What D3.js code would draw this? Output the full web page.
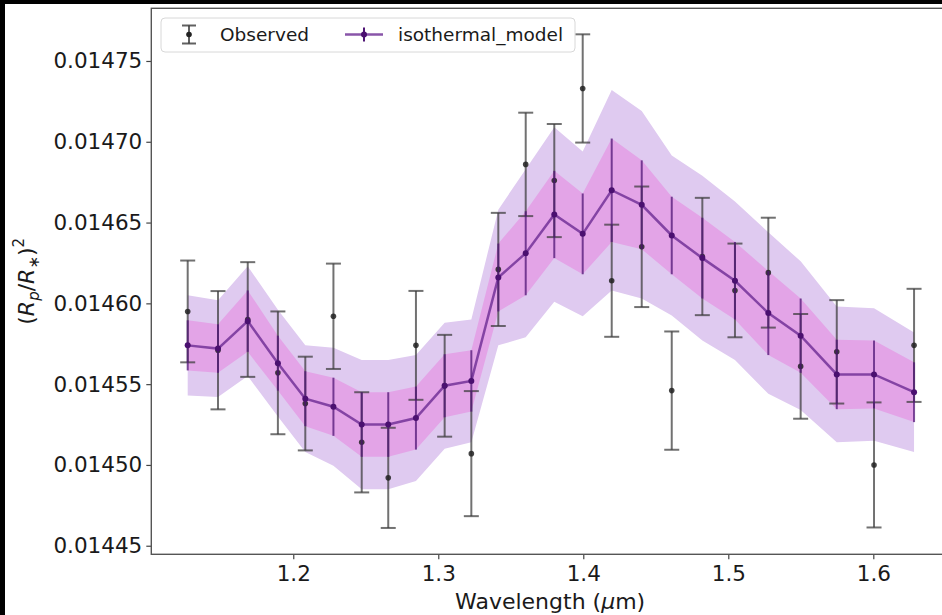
<!DOCTYPE html>
<html>
<head>
<meta charset="utf-8">
<script src="https://cdn.jsdelivr.net/npm/d3@7"></script>
<style>
  body { margin: 0; background: #fff; }
  svg { display: block; }
  text { font-family: "DejaVu Sans", sans-serif; fill: #1a1a1a; }
</style>
</head>
<body>
<script>
// spectrum bins (micron)
const wavelength = [1.1272, 1.1481, 1.1686, 1.1894, 1.2083, 1.2277, 1.2472, 1.2655, 1.2846, 1.3044,
  1.3228, 1.3414, 1.3603, 1.3800, 1.3996, 1.4196, 1.4403, 1.4610, 1.4821, 1.5046,
  1.5276, 1.5499, 1.5748, 1.6005, 1.6281];

const observed = [0.014595, 0.014571, 0.014590, 0.014557, 0.014538, 0.014592, 0.014514, 0.014492, 0.014574, 0.014549,
  0.014507, 0.014621, 0.014686, 0.014676, 0.014733, 0.014614, 0.014635, 0.014546, 0.014629, 0.014608,
  0.014619, 0.014561, 0.014570, 0.014500, 0.014574];

const observedErr = [3.15e-5, 3.66e-5, 3.55e-5, 3.8e-5, 2.9e-5, 3.26e-5, 3.1e-5, 3.1e-5, 3.37e-5, 3.15e-5,
  3.87e-5, 3.5e-5, 3.2e-5, 3.5e-5, 3.35e-5, 3.47e-5, 3.73e-5, 3.66e-5, 3.63e-5, 2.9e-5,
  3.4e-5, 3.24e-5, 3.2e-5, 3.87e-5, 3.5e-5];

const model = [0.014574, 0.014572, 0.014589, 0.014563, 0.014541, 0.014536, 0.014525, 0.014525, 0.014529, 0.014549,
  0.014552, 0.014616, 0.014631, 0.014655, 0.014643, 0.014670, 0.014661, 0.014642, 0.014628, 0.014614,
  0.014594, 0.014580, 0.014556, 0.014556, 0.014545];

// half widths of the 1 sigma and 2 sigma model bands
const sigma1 = [1.55e-5, 1.5e-5, 1.9e-5, 1.7e-5, 1.7e-5, 1.8e-5, 2.0e-5, 2.0e-5, 1.95e-5, 1.95e-5,
  1.9e-5, 2.1e-5, 2.6e-5, 2.7e-5, 2.5e-5, 3.2e-5, 2.75e-5, 2.4e-5, 2.5e-5, 2.4e-5,
  2.6e-5, 2.3e-5, 2.15e-5, 2.1e-5, 1.85e-5];
const sigma2 = [3.1e-5, 3.0e-5, 3.4e-5, 3.3e-5, 3.3e-5, 3.65e-5, 4.0e-5, 4.0e-5, 3.9e-5, 3.9e-5,
  3.8e-5, 4.2e-5, 5.2e-5, 5.4e-5, 5.1e-5, 6.2e-5, 5.8e-5, 4.95e-5, 5.1e-5, 4.9e-5,
  5.0e-5, 4.6e-5, 4.2e-5, 4.1e-5, 3.7e-5];

const xTicks = [1.2, 1.3, 1.4, 1.5, 1.6];
const yTicks = [0.01445, 0.01450, 0.01455, 0.01460, 0.01465, 0.01470, 0.01475];

const W = 942, H = 615;
const plot = { left: 151.3, right: 949, top: 8.3, bottom: 554.3 };

const svg = d3.select("body").append("svg")
  .attr("width", W)
  .attr("height", H);

svg.append("rect").attr("width", W).attr("height", H).attr("fill", "#fff");

const x = d3.scaleLinear().domain([1.1021, 1.6522]).range([plot.left, plot.right]);
const y = d3.scaleLinear().domain([0.0144447, 0.0147826]).range([plot.bottom, plot.top]);

const pts = wavelength.map((w, i) => ({
  w: w, obs: observed[i], err: observedErr[i], m: model[i], s1: sigma1[i], s2: sigma2[i]
}));

const g = svg.append("g");

// bands
const band = (key) => d3.area()
  .x(d => x(d.w))
  .y0(d => y(d.m - d[key]))
  .y1(d => y(d.m + d[key]));

g.append("path").datum(pts).attr("d", band("s2")).attr("fill", "#dfcaf0");
g.append("path").datum(pts).attr("d", band("s1")).attr("fill", "#e3a4e7");

// observed error bars
const obs = g.append("g").attr("stroke", "#3a3a3a").attr("stroke-opacity", 0.72).attr("stroke-width", 2);
obs.selectAll("line.bar").data(pts).enter().append("line")
  .attr("class", "bar")
  .attr("x1", d => x(d.w)).attr("x2", d => x(d.w))
  .attr("y1", d => y(d.obs - d.err)).attr("y2", d => y(d.obs + d.err));
[-1, 1].forEach(sgn => {
  obs.selectAll("line.cap" + (sgn > 0 ? "t" : "b")).data(pts).enter().append("line")
    .attr("class", "cap" + (sgn > 0 ? "t" : "b"))
    .attr("x1", d => x(d.w) - 7.5).attr("x2", d => x(d.w) + 7.5)
    .attr("y1", d => y(d.obs + sgn * d.err)).attr("y2", d => y(d.obs + sgn * d.err));
});
g.selectAll("circle.obs").data(pts).enter().append("circle")
  .attr("class", "obs")
  .attr("cx", d => x(d.w)).attr("cy", d => y(d.obs))
  .attr("r", 2.8).attr("fill", "#222").attr("fill-opacity", 0.85);

// model line with its error bars
g.append("path").datum(pts)
  .attr("d", d3.line().x(d => x(d.w)).y(d => y(d.m)))
  .attr("fill", "none").attr("stroke", "#6b2b93").attr("stroke-opacity", 0.8).attr("stroke-width", 2.5);
g.selectAll("line.merr").data(pts).enter().append("line")
  .attr("class", "merr")
  .attr("x1", d => x(d.w)).attr("x2", d => x(d.w))
  .attr("y1", d => y(d.m - d.s1)).attr("y2", d => y(d.m + d.s1))
  .attr("stroke", "#4f1575").attr("stroke-opacity", 0.75).attr("stroke-width", 2);
g.selectAll("circle.mod").data(pts).enter().append("circle")
  .attr("class", "mod")
  .attr("cx", d => x(d.w)).attr("cy", d => y(d.m))
  .attr("r", 3).attr("fill", "#4b1070");

// axes
const fmtY = d3.format(".5f");
const yAxis = svg.append("g").attr("transform", `translate(${plot.left},0)`)
  .call(d3.axisLeft(y).tickValues(yTicks).tickFormat(fmtY).tickSize(5).tickPadding(4));
const xAxis = svg.append("g").attr("transform", `translate(0,${plot.bottom})`)
  .call(d3.axisBottom(x).tickValues(xTicks).tickFormat(d3.format(".1f")).tickSize(5).tickPadding(6));
[xAxis, yAxis].forEach(a => {
  a.select(".domain").remove();
  a.selectAll(".tick line").attr("stroke", "#444").attr("stroke-width", 1.2);
  a.selectAll(".tick text").attr("font-size", 21.5).attr("fill", "#1a1a1a")
    .attr("font-family", "DejaVu Sans");
});

// spines
svg.append("rect")
  .attr("x", plot.left).attr("y", plot.top)
  .attr("width", plot.right - plot.left).attr("height", plot.bottom - plot.top)
  .attr("fill", "none").attr("stroke", "#555").attr("stroke-width", 1.4);

// axis labels
const xl = svg.append("text")
  .attr("x", (plot.left + plot.right) / 2).attr("y", 609)
  .attr("text-anchor", "middle").attr("font-size", 22);
xl.append("tspan").text("Wavelength (");
xl.append("tspan").attr("font-style", "italic").text("μ");
xl.append("tspan").text("m)");

const yl = svg.append("text")
  .attr("transform", `translate(34,${(plot.top + plot.bottom) / 2}) rotate(-90)`)
  .attr("text-anchor", "middle").attr("font-size", 22);
yl.append("tspan").text("(");
yl.append("tspan").attr("font-style", "italic").text("R");
yl.append("tspan").attr("font-style", "italic").attr("font-size", 15).attr("dy", 5).text("p");
yl.append("tspan").attr("dy", -5).text("/");
yl.append("tspan").attr("font-style", "italic").text("R");
yl.append("tspan").attr("font-size", 15).attr("dy", 5).text("∗");
yl.append("tspan").attr("dy", -5).text(")");
yl.append("tspan").attr("font-size", 15).attr("dy", -10).text("2");

// legend
const lg = svg.append("g");
lg.append("rect").attr("x", 161).attr("y", 18).attr("width", 414).attr("height", 34).attr("rx", 4)
  .attr("fill", "#fff").attr("fill-opacity", 0.8).attr("stroke", "#d8d8d8");
const ly = 34.5;
const ho = lg.append("g").attr("stroke", "#3a3a3a").attr("stroke-opacity", 0.8).attr("stroke-width", 2);
ho.append("line").attr("x1", 189).attr("x2", 189).attr("y1", ly - 9).attr("y2", ly + 9);
ho.append("line").attr("x1", 182).attr("x2", 196).attr("y1", ly - 9).attr("y2", ly - 9);
ho.append("line").attr("x1", 182).attr("x2", 196).attr("y1", ly + 9).attr("y2", ly + 9);
lg.append("circle").attr("cx", 189).attr("cy", ly).attr("r", 2.8).attr("fill", "#222");
lg.append("text").attr("x", 220).attr("y", ly + 6.5).attr("font-size", 18.5).text("Observed");

lg.append("line").attr("x1", 345).attr("x2", 383).attr("y1", ly).attr("y2", ly)
  .attr("stroke", "#6b2b93").attr("stroke-opacity", 0.8).attr("stroke-width", 2.5);
lg.append("line").attr("x1", 364).attr("x2", 364).attr("y1", ly - 7).attr("y2", ly + 7)
  .attr("stroke", "#4f1575").attr("stroke-width", 2);
lg.append("circle").attr("cx", 364).attr("cy", ly).attr("r", 3).attr("fill", "#4b1070");
lg.append("text").attr("x", 398).attr("y", ly + 6.5).attr("font-size", 18.5).text("isothermal_model");

// dark border strips of the screenshot
svg.append("rect").attr("x", 0).attr("y", 0).attr("width", W).attr("height", 4).attr("fill", "#000");
svg.append("rect").attr("x", 0).attr("y", 0).attr("width", 5).attr("height", H).attr("fill", "#000");
</script>
</body>
</html>
